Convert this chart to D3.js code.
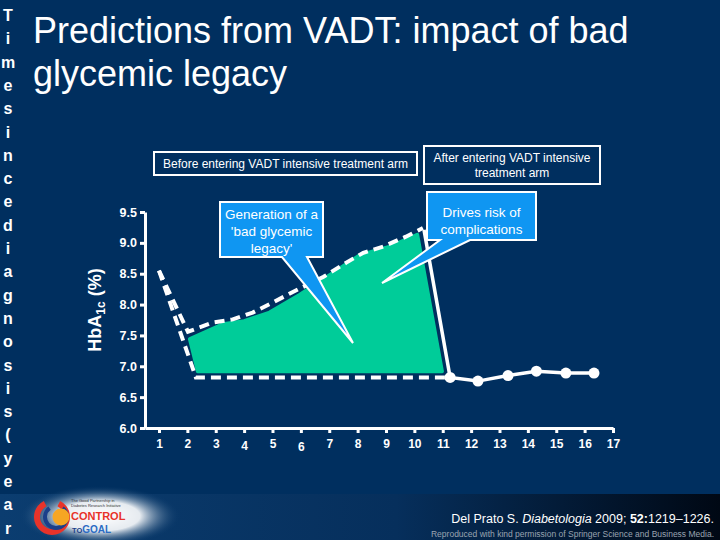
<!DOCTYPE html>
<html><head><meta charset="utf-8">
<script src="https://cdn.jsdelivr.net/npm/d3@7"></script>
<style>
html,body{margin:0;padding:0;background:#002f5f;}
svg{display:block;}
text{font-family:"Liberation Sans",Arial,sans-serif;}
</style></head>
<body>
<svg id="c" width="720" height="540"></svg>
<script>
// ---- data ----
const xTicks = [1,2,3,4,5,6,7,8,9,10,11,12,13,14,15,16,17];
const yTicks = [6.0,6.5,7.0,7.5,8.0,8.5,9.0,9.5];
// upper dashed line (before intensive arm, bad legacy)
const legacyX = [1, 2.02, 2.9, 3.6, 4.3, 5.0, 5.7, 6.8, 7.6, 8.2, 8.9, 9.7, 10.3];
const legacyY = [8.55, 7.56, 7.71, 7.76, 7.87, 8.03, 8.2, 8.45, 8.68, 8.84, 8.94, 9.1, 9.24];
// lower dashed line (good control)
const goodX = [1, 2.3, 11.26];
const goodY = [8.55, 6.82, 6.82];
// green area (legacy)
const areaTopX = [2.09, 3.25, 4.0, 4.9, 5.97, 6.67, 8.08, 9.14, 10.1];
const areaTopY = [7.44, 7.68, 7.73, 7.87, 8.16, 8.37, 8.8, 8.94, 9.13];
const areaBaseX = [10.97, 2.37];
const areaBaseY = [6.92, 6.92];
// after entering intensive arm
const afterX = [10.34, 11.26, 12.24, 13.3, 14.3, 15.34, 16.33];
const afterY = [9.21, 6.82, 6.76, 6.85, 6.92, 6.89, 6.89];
const markerFrom = 1;
const sideLetters = "Timesincediagnosis(year".split("");

const svg = d3.select("#c");
const defs = svg.append("defs");
const fg = defs.append("linearGradient").attr("id","foot").attr("x1","0").attr("x2","1").attr("y1","0").attr("y2","0");
fg.append("stop").attr("offset","0").attr("stop-color","#0b3d70");
fg.append("stop").attr("offset","0.55").attr("stop-color","#062f5c");
fg.append("stop").attr("offset","1").attr("stop-color","#000814");
const glow = defs.append("radialGradient").attr("id","glow");
glow.append("stop").attr("offset","0").attr("stop-color","#ffffff");
glow.append("stop").attr("offset","0.5").attr("stop-color","#ffffff").attr("stop-opacity",0.9);
glow.append("stop").attr("offset","1").attr("stop-color","#0b3d70").attr("stop-opacity",0);

svg.append("rect").attr("width",720).attr("height",540).attr("fill","#002f5f");
svg.append("rect").attr("x",0).attr("y",494).attr("width",720).attr("height",46).attr("fill","url(#foot)");

// side letters
svg.append("g").selectAll("text").data(sideLetters).join("text")
  .attr("x",8).attr("y",(d,i)=>21+i*23.3).attr("text-anchor","middle")
  .attr("fill","#fff").attr("font-size",16).attr("font-weight","bold").text(d=>d);

// title
svg.append("text").attr("x",33).attr("y",43).attr("fill","#fff").attr("font-size",36).text("Predictions from VADT: impact of bad");
svg.append("text").attr("x",33).attr("y",86).attr("fill","#fff").attr("font-size",36).text("glycemic legacy");

// scales
const x = d3.scaleLinear().domain([0.5,17]).range([144.8,613]);
const y = d3.scaleLinear().domain([6,9.5]).range([428,212]);

// axes
const yAx = svg.append("g").attr("transform","translate(145,0)")
  .call(d3.axisLeft(y).tickValues(yTicks).tickFormat(d3.format(".1f")).tickSize(5).tickSizeOuter(0).tickPadding(3));
yAx.selectAll("path,line").attr("stroke","#fff").attr("stroke-width",3);
yAx.selectAll("text").attr("fill","#fff").attr("font-size",12.5).attr("font-weight","bold").attr("font-family","Liberation Sans, Arial, sans-serif");

const xAx = svg.append("g").attr("transform","translate(0,428)")
  .call(d3.axisBottom(x).tickValues(xTicks).tickFormat(d3.format("d")).tickSize(5).tickSizeOuter(0).tickPadding(5));
xAx.selectAll("path,line").attr("stroke","#fff").attr("stroke-width",3);
xAx.selectAll("text").attr("fill","#fff").attr("font-size",12).attr("font-weight","bold").attr("font-family","Liberation Sans, Arial, sans-serif")
  .attr("dy",d=> d===4? "1.0em" : d===6 ? "1.1em" : "0.8em");

// Y label
const yl = svg.append("text").attr("transform","translate(101,310) rotate(-90)").attr("text-anchor","middle")
  .attr("fill","#fff").attr("font-size",18).attr("font-weight","bold");
yl.append("tspan").text("HbA");
yl.append("tspan").attr("font-size",12).attr("dy",4).text("1c");
yl.append("tspan").attr("dy",-4).text(" (%)");

// green area
const pts = areaTopX.map((v,i)=>[v,areaTopY[i]]).concat(areaBaseX.map((v,i)=>[v,areaBaseY[i]]));
svg.append("path").attr("d", d3.line().x(d=>x(d[0])).y(d=>y(d[1]))(pts)+"Z")
  .attr("fill","#00cc99").attr("stroke","#00cc99").attr("stroke-width",4).attr("stroke-linejoin","round");

// dashed lines
const ln = d3.line().x(d=>x(d[0])).y(d=>y(d[1]));
svg.append("path").attr("d", ln(legacyX.map((v,i)=>[v,legacyY[i]])))
  .attr("fill","none").attr("stroke","#fff").attr("stroke-width",4).attr("stroke-dasharray","10,6");
svg.append("path").attr("d", ln(goodX.map((v,i)=>[v,goodY[i]])))
  .attr("fill","none").attr("stroke","#fff").attr("stroke-width",4).attr("stroke-dasharray","10,6");

// after line
const aPts = afterX.map((v,i)=>[v,afterY[i]]);
svg.append("path").attr("d", ln(aPts)).attr("fill","none").attr("stroke","#fff").attr("stroke-width",3.5);
svg.append("g").selectAll("circle").data(aPts.slice(markerFrom)).join("circle")
  .attr("cx",d=>x(d[0])).attr("cy",d=>y(d[1])).attr("r",5.5).attr("fill","#fff");

// phase boxes
function box(x0,y0,w,h,lines,ys){
  svg.append("rect").attr("x",x0).attr("y",y0).attr("width",w).attr("height",h)
    .attr("fill","#002f5f").attr("stroke","#fff").attr("stroke-width",2);
  lines.forEach((t,i)=>svg.append("text").attr("x",x0+w/2).attr("y",ys[i]).attr("text-anchor","middle")
    .attr("fill","#fff").attr("font-size",12).text(t));
}
box(154,152,263,23,["Before entering VADT intensive treatment arm"],[168]);
box(424,146,176,38,["After entering VADT intensive","treatment arm"],[162,177]);

// callouts
function callout(x0,y0,w,h,bx1,bx2,tx,ty,lines,ys){
  const p = `M${x0},${y0}H${x0+w}V${y0+h}H${bx2}L${tx},${ty}L${bx1},${y0+h}H${x0}Z`;
  svg.append("path").attr("d",p).attr("fill","#0f96f2").attr("stroke","#fff").attr("stroke-width",2).attr("stroke-linejoin","miter");
  lines.forEach((t,i)=>svg.append("text").attr("x",x0+w/2).attr("y",ys[i]).attr("text-anchor","middle")
    .attr("fill","#fff").attr("font-size",13.5).text(t));
}
callout(220,202,103,55,282,307,353,343,["Generation of a","'bad glycemic","legacy'"],[219,236,253]);
callout(427,192,109,48,440,470,382,283,["Drives risk of","complications"],[217,234]);

// logo
svg.append("ellipse").attr("cx",100).attr("cy",516).attr("rx",80).attr("ry",30).attr("fill","url(#glow)");
svg.append("path").attr("d",d3.arc()({innerRadius:12,outerRadius:18,startAngle:Math.PI*0.15,endAngle:Math.PI*1.85}))
  .attr("transform","translate(52,517)").attr("fill","#e8332a");
svg.append("path").attr("d",d3.arc()({innerRadius:9,outerRadius:13,startAngle:Math.PI*0.2,endAngle:Math.PI*1.8}))
  .attr("transform","translate(56,517)").attr("fill","#1b3f8a");
svg.append("circle").attr("cx",61).attr("cy",517).attr("r",8.5).attr("fill","#f6a623");
svg.append("text").attr("x",71).attr("y",502).attr("font-size",4).attr("fill","#333").text("The Good Partnership in");
svg.append("text").attr("x",71).attr("y",507).attr("font-size",4).attr("fill","#333").text("Diabetes Research Initiative");
svg.append("text").attr("x",71).attr("y",520).attr("font-size",11).attr("font-weight","bold").attr("fill","#e8332a").text("CONTROL");
const tg = svg.append("text").attr("x",72).attr("y",533).attr("font-size",10).attr("font-weight","bold");
tg.append("tspan").attr("fill","#1b3f8a").attr("font-size",7.5).text("TO");
tg.append("tspan").attr("fill","#2b6cc4").text("GOAL");

// citation
const ct = svg.append("text").attr("x",714).attr("y",523).attr("text-anchor","end").attr("fill","#fff").attr("font-size",12.5);
ct.append("tspan").text("Del Prato S. ");
ct.append("tspan").attr("font-style","italic").text("Diabetologia");
ct.append("tspan").text(" 2009; ");
ct.append("tspan").attr("font-weight","bold").text("52:");
ct.append("tspan").text("1219–1226.");
svg.append("text").attr("x",714).attr("y",537).attr("text-anchor","end").attr("fill","#9aa3b0").attr("font-size",8.5)
  .text("Reproduced with kind permission of Springer Science and Business Media.");
</script>
</body></html>
